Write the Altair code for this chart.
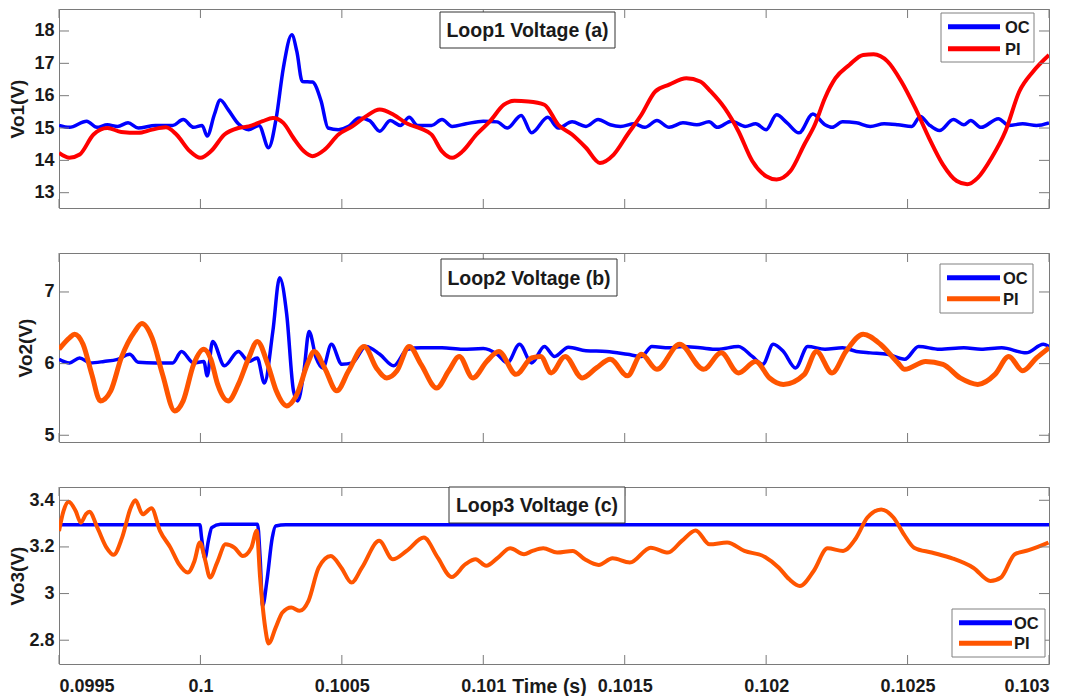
import altair as alt
import pandas as pd

# ---------------- data (time in s, voltage in V) ----------------
p1_oc = [
    (0.099500, 15.08), (0.099537, 15.02), (0.099598, 15.21), (0.099634, 15.02), (0.099671, 15.10),
    (0.099707, 15.05), (0.099744, 15.16), (0.099780, 15.00), (0.099841, 15.08), (0.099902, 15.08),
    (0.099939, 15.26), (0.099976, 15.02), (0.100006, 15.08), (0.100024, 14.75), (0.100049, 15.41),
    (0.100070, 15.87), (0.100098, 15.57), (0.100134, 15.13), (0.100171, 14.95), (0.100207, 15.08),
    (0.100241, 14.39), (0.100268, 15.31), (0.100293, 16.85), (0.100323, 17.88), (0.100341, 17.36),
    (0.100360, 16.44), (0.100396, 16.42), (0.100427, 15.82), (0.100451, 15.00), (0.100488, 14.95),
    (0.100524, 15.05), (0.100561, 15.31), (0.100598, 15.23), (0.100634, 14.90), (0.100671, 15.23),
    (0.100707, 15.08), (0.100738, 15.33), (0.100768, 15.08), (0.100817, 15.08), (0.100854, 15.26),
    (0.100890, 15.05), (0.100939, 15.13), (0.101000, 15.21), (0.101049, 15.19), (0.101085, 15.00),
    (0.101134, 15.39), (0.101171, 14.85), (0.101228, 15.33), (0.101265, 15.00), (0.101314, 15.19),
    (0.101363, 15.05), (0.101406, 15.26), (0.101449, 15.10), (0.101485, 15.05), (0.101534, 15.13),
    (0.101571, 15.02), (0.101614, 15.23), (0.101657, 15.02), (0.101706, 15.16), (0.101755, 15.10),
    (0.101798, 15.19), (0.101828, 15.02), (0.101877, 15.21), (0.101926, 15.05), (0.101963, 15.13),
    (0.102000, 14.95), (0.102037, 15.41), (0.102074, 15.16), (0.102116, 14.85), (0.102165, 15.43),
    (0.102208, 15.10), (0.102233, 15.02), (0.102270, 15.19), (0.102319, 15.16), (0.102368, 15.05),
    (0.102417, 15.13), (0.102466, 15.10), (0.102515, 15.05), (0.102545, 15.36), (0.102576, 15.10),
    (0.102613, 14.92), (0.102662, 15.26), (0.102699, 15.10), (0.102723, 15.23), (0.102760, 15.02),
    (0.102821, 15.29), (0.102858, 15.08), (0.102907, 15.13), (0.102956, 15.08), (0.103000, 15.16),
]

p1_pi = [
    (0.099500, 14.23), (0.099537, 14.08), (0.099573, 14.18), (0.099622, 14.80), (0.099671, 15.00),
    (0.099720, 14.88), (0.099780, 14.85), (0.099829, 14.95), (0.099878, 15.02), (0.099915, 14.80),
    (0.099963, 14.28), (0.100000, 14.08), (0.100037, 14.28), (0.100085, 14.80), (0.100134, 15.00),
    (0.100171, 15.05), (0.100220, 15.21), (0.100256, 15.31), (0.100293, 15.16), (0.100329, 14.69),
    (0.100366, 14.28), (0.100396, 14.13), (0.100439, 14.33), (0.100488, 14.80), (0.100537, 15.05),
    (0.100585, 15.36), (0.100634, 15.57), (0.100683, 15.41), (0.100732, 15.13), (0.100780, 14.98),
    (0.100817, 14.80), (0.100854, 14.28), (0.100890, 14.08), (0.100927, 14.28), (0.100976, 14.80),
    (0.101024, 15.21), (0.101073, 15.72), (0.101110, 15.84), (0.101159, 15.82), (0.101216, 15.72),
    (0.101265, 15.10), (0.101314, 14.80), (0.101363, 14.39), (0.101412, 13.92), (0.101461, 14.18),
    (0.101510, 14.80), (0.101559, 15.41), (0.101608, 16.13), (0.101657, 16.34), (0.101718, 16.54),
    (0.101767, 16.44), (0.101804, 16.13), (0.101853, 15.62), (0.101902, 14.90), (0.101951, 13.98),
    (0.102000, 13.51), (0.102037, 13.41), (0.102086, 13.67), (0.102135, 14.49), (0.102172, 15.10),
    (0.102208, 15.93), (0.102245, 16.54), (0.102294, 16.95), (0.102343, 17.26), (0.102380, 17.28),
    (0.102429, 17.06), (0.102478, 16.44), (0.102527, 15.62), (0.102576, 14.69), (0.102625, 13.87),
    (0.102674, 13.36), (0.102711, 13.26), (0.102748, 13.46), (0.102797, 14.08), (0.102846, 14.90),
    (0.102895, 16.13), (0.102944, 16.75), (0.103000, 17.26),
]

p2_oc = [
    (0.099500, 6.06), (0.099537, 6.01), (0.099573, 6.08), (0.099610, 6.01), (0.099659, 6.03),
    (0.099707, 6.06), (0.099750, 6.13), (0.099780, 6.02), (0.099841, 6.01), (0.099902, 6.01),
    (0.099933, 6.17), (0.099976, 6.01), (0.100012, 6.03), (0.100024, 5.83), (0.100043, 6.31),
    (0.100085, 5.97), (0.100134, 6.17), (0.100171, 6.03), (0.100201, 6.08), (0.100226, 5.73),
    (0.100256, 6.45), (0.100280, 7.20), (0.100305, 6.69), (0.100329, 5.62), (0.100344, 5.48),
    (0.100366, 5.90), (0.100384, 6.45), (0.100409, 6.08), (0.100433, 5.94), (0.100463, 6.27),
    (0.100500, 5.99), (0.100537, 6.01), (0.100585, 6.24), (0.100634, 6.13), (0.100683, 5.97),
    (0.100732, 6.20), (0.100780, 6.22), (0.100854, 6.22), (0.100927, 6.20), (0.101000, 6.21),
    (0.101049, 6.13), (0.101085, 6.01), (0.101128, 6.27), (0.101171, 6.01), (0.101216, 6.24),
    (0.101252, 6.10), (0.101301, 6.23), (0.101363, 6.18), (0.101436, 6.17), (0.101510, 6.13),
    (0.101559, 6.10), (0.101596, 6.24), (0.101657, 6.22), (0.101706, 6.24), (0.101767, 6.22),
    (0.101828, 6.20), (0.101902, 6.24), (0.101951, 6.10), (0.101988, 5.99), (0.102025, 6.27),
    (0.102061, 6.17), (0.102104, 5.94), (0.102147, 6.24), (0.102208, 6.20), (0.102270, 6.22),
    (0.102319, 6.17), (0.102368, 6.15), (0.102429, 6.13), (0.102490, 6.06), (0.102539, 6.24),
    (0.102613, 6.20), (0.102699, 6.22), (0.102760, 6.20), (0.102833, 6.22), (0.102919, 6.15),
    (0.102980, 6.27), (0.103000, 6.24),
]

p2_pi = [
    (0.099500, 6.20), (0.099537, 6.36), (0.099555, 6.41), (0.099585, 6.27), (0.099616, 5.85),
    (0.099646, 5.48), (0.099683, 5.62), (0.099720, 6.08), (0.099768, 6.45), (0.099793, 6.56),
    (0.099829, 6.36), (0.099866, 5.85), (0.099909, 5.34), (0.099939, 5.48), (0.099976, 5.99),
    (0.100012, 6.20), (0.100037, 6.06), (0.100061, 5.71), (0.100098, 5.48), (0.100134, 5.71),
    (0.100171, 6.08), (0.100201, 6.31), (0.100238, 5.99), (0.100268, 5.62), (0.100305, 5.41),
    (0.100341, 5.57), (0.100378, 5.99), (0.100402, 6.17), (0.100439, 5.94), (0.100482, 5.62),
    (0.100524, 5.90), (0.100579, 6.24), (0.100622, 5.94), (0.100659, 5.80), (0.100695, 5.90),
    (0.100738, 6.24), (0.100780, 5.99), (0.100835, 5.66), (0.100878, 5.90), (0.100915, 6.10),
    (0.100963, 5.80), (0.101012, 6.03), (0.101055, 6.17), (0.101116, 5.85), (0.101171, 6.08),
    (0.101203, 6.10), (0.101240, 5.87), (0.101289, 6.10), (0.101350, 5.80), (0.101400, 5.94),
    (0.101449, 6.06), (0.101510, 5.83), (0.101559, 6.13), (0.101614, 5.92), (0.101694, 6.27),
    (0.101779, 5.92), (0.101841, 6.15), (0.101902, 5.87), (0.101963, 6.03), (0.102012, 5.80),
    (0.102061, 5.71), (0.102135, 5.85), (0.102178, 6.17), (0.102233, 5.87), (0.102282, 6.17),
    (0.102343, 6.41), (0.102404, 6.27), (0.102466, 6.01), (0.102490, 5.92), (0.102564, 6.03),
    (0.102625, 5.99), (0.102686, 5.80), (0.102748, 5.71), (0.102809, 5.85), (0.102858, 6.10),
    (0.102907, 5.90), (0.102956, 6.08), (0.103000, 6.22),
]

p3_oc = [
    (0.099500, 3.295), (0.099998, 3.295), (0.100004, 3.240), (0.100016, 3.151), (0.100028, 3.226),
    (0.100040, 3.283), (0.100071, 3.297), (0.100202, 3.297), (0.100211, 3.154), (0.100220, 2.947),
    (0.100235, 3.054), (0.100254, 3.240), (0.100266, 3.290), (0.100302, 3.295), (0.103000, 3.295),
]

p3_pi = [
    (0.099500, 3.268), (0.099516, 3.354), (0.099534, 3.394), (0.099559, 3.354), (0.099577, 3.304),
    (0.099595, 3.340), (0.099607, 3.351), (0.099638, 3.276), (0.099668, 3.197), (0.099693, 3.166),
    (0.099723, 3.240), (0.099754, 3.369), (0.099770, 3.400), (0.099796, 3.340), (0.099827, 3.366),
    (0.099857, 3.269), (0.099894, 3.197), (0.099924, 3.126), (0.099955, 3.090), (0.099979, 3.140),
    (0.099998, 3.219), (0.100016, 3.147), (0.100034, 3.069), (0.100059, 3.133), (0.100089, 3.211),
    (0.100120, 3.197), (0.100150, 3.161), (0.100180, 3.197), (0.100199, 3.269), (0.100211, 3.069),
    (0.100229, 2.854), (0.100241, 2.786), (0.100266, 2.854), (0.100290, 2.919), (0.100321, 2.940),
    (0.100351, 2.926), (0.100382, 2.969), (0.100418, 3.111), (0.100461, 3.161), (0.100498, 3.111),
    (0.100534, 3.047), (0.100571, 3.111), (0.100632, 3.226), (0.100680, 3.147), (0.100729, 3.183),
    (0.100790, 3.240), (0.100839, 3.154), (0.100888, 3.071), (0.100937, 3.126), (0.100973, 3.147),
    (0.101010, 3.119), (0.101052, 3.154), (0.101095, 3.194), (0.101144, 3.169), (0.101174, 3.183),
    (0.101212, 3.194), (0.101261, 3.176), (0.101316, 3.183), (0.101359, 3.147), (0.101408, 3.123),
    (0.101457, 3.151), (0.101518, 3.133), (0.101592, 3.197), (0.101653, 3.176), (0.101702, 3.226),
    (0.101751, 3.271), (0.101800, 3.211), (0.101862, 3.219), (0.101923, 3.183), (0.101996, 3.157),
    (0.102045, 3.111), (0.102082, 3.061), (0.102119, 3.033), (0.102168, 3.097), (0.102217, 3.194),
    (0.102272, 3.183), (0.102315, 3.233), (0.102358, 3.326), (0.102407, 3.361), (0.102450, 3.326),
    (0.102487, 3.254), (0.102523, 3.197), (0.102585, 3.176), (0.102658, 3.151), (0.102732, 3.111),
    (0.102793, 3.054), (0.102830, 3.069), (0.102879, 3.169), (0.102928, 3.186), (0.102998, 3.219),
]

x_ticks = [0.0995, 0.1, 0.1005, 0.101, 0.1015, 0.102, 0.1025, 0.103]
p1_yticks = [13, 14, 15, 16, 17, 18]
p2_yticks = [5, 6, 7]
p3_yticks = [2.8, 3.0, 3.2, 3.4]
series_names = ["OC", "PI"]
panel_titles = ["Loop1 Voltage (a)", "Loop2 Voltage (b)", "Loop3 Voltage (c)"]
y_titles = ["Vo1(V)", "Vo2(V)", "Vo3(V)"]

# ---------------- style ----------------
FONT = "Liberation Sans"
GREY = "#7a7a7a"
TXT = "#1a1a1a"
BLUE = "#0000ff"
RED = "#ff0000"
ORANGE = "#ff5500"
W = 990


def to_df(pairs):
    return pd.DataFrame(pairs, columns=["t", "v"])


def panel(oc, pi, pi_color, pi_width, ydom, yticks, ytitle, H, title, tbox, lbox, lrows, show_x, tpad):
    xs = alt.Scale(domain=[0.0995, 0.103], nice=False, zero=False)
    ys = alt.Scale(domain=ydom, nice=False, zero=False)
    if show_x:
        xaxis = alt.Axis(values=x_ticks, format="~g", ticks=False, tickSize=0, domain=False, grid=False,
                         labelFont=FONT, labelFontSize=18, labelFontWeight="bold", labelColor=TXT,
                         labelPadding=13, labelOverlap=False,
                         title="Time (s)", titleFont=FONT, titleFontSize=19.5, titleFontWeight="bold",
                         titleColor=TXT, titleX=490, titleY=13, titleBaseline="top", titleAlign="center")
    else:
        xaxis = None
    X = alt.X("t:Q", scale=xs, axis=xaxis)
    Y = alt.Y("v:Q", scale=ys,
              axis=alt.Axis(values=yticks, format="~g", ticks=False, tickSize=0, domain=False, grid=False,
                            labelFont=FONT, labelFontSize=18, labelFontWeight="bold", labelColor=TXT,
                            labelPadding=5, title=ytitle, titleFont=FONT, titleFontSize=19,
                            titleFontWeight="bold", titleColor=TXT, titlePadding=tpad))

    oc_line = alt.Chart(to_df(oc)).mark_line(color=BLUE, strokeWidth=3.5, clip=True,
                                             interpolate="monotone").encode(x=X, y=Y)
    pi_line = alt.Chart(to_df(pi)).mark_line(color=pi_color, strokeWidth=pi_width, clip=True,
                                             interpolate="monotone").encode(x=X, y=Y)

    ydf = pd.DataFrame({"v": yticks})
    xdf = pd.DataFrame({"t": x_ticks})
    tl = alt.Chart(ydf).mark_rule(color=GREY, strokeWidth=1).encode(y=Y, x=alt.value(0), x2=alt.value(10))
    tr = alt.Chart(ydf).mark_rule(color=GREY, strokeWidth=1).encode(y=Y, x=alt.value(W - 10), x2=alt.value(W))
    tb = alt.Chart(xdf).mark_rule(color=GREY, strokeWidth=1).encode(x=X, y=alt.value(H - 9), y2=alt.value(H))
    tt = alt.Chart(xdf).mark_rule(color=GREY, strokeWidth=1).encode(x=X, y=alt.value(0), y2=alt.value(9))

    dummy = pd.DataFrame({"k": [0]})
    x0, x1, y0, y1 = tbox
    title_box = alt.Chart(dummy).mark_rect(fill="white", stroke="#333333", strokeWidth=1).encode(
        x=alt.value(x0), x2=alt.value(x1), y=alt.value(y0), y2=alt.value(y1))
    title_txt = alt.Chart(dummy).mark_text(text=title, font=FONT, fontSize=19.5, fontWeight="bold", color=TXT,
                                           align="center", baseline="middle").encode(
        x=alt.value((x0 + x1) / 2), y=alt.value((y0 + y1) / 2 + 1))

    lx0, lx1, ly0, ly1 = lbox
    sx0, sx1, tx, r1, r2 = lrows
    leg_box = alt.Chart(dummy).mark_rect(fill="white", stroke="#808080", strokeWidth=1).encode(
        x=alt.value(lx0), x2=alt.value(lx1), y=alt.value(ly0), y2=alt.value(ly1))
    leg_l1 = alt.Chart(dummy).mark_rule(color=BLUE, strokeWidth=5).encode(
        x=alt.value(sx0), x2=alt.value(sx1), y=alt.value(r1))
    leg_l2 = alt.Chart(dummy).mark_rule(color=pi_color, strokeWidth=5).encode(
        x=alt.value(sx0), x2=alt.value(sx1), y=alt.value(r2))
    leg_t1 = alt.Chart(dummy).mark_text(text=series_names[0], font=FONT, fontSize=16.5, fontWeight="bold",
                                        color=TXT, align="left", baseline="middle").encode(
        x=alt.value(tx), y=alt.value(r1 + 1))
    leg_t2 = alt.Chart(dummy).mark_text(text=series_names[1], font=FONT, fontSize=16.5, fontWeight="bold",
                                        color=TXT, align="left", baseline="middle").encode(
        x=alt.value(tx), y=alt.value(r2 + 1))

    return alt.layer(oc_line, pi_line, tl, tr, tb, tt, title_box, title_txt,
                     leg_box, leg_l1, leg_l2, leg_t1, leg_t2).properties(width=W, height=H)


c1 = panel(p1_oc, p1_pi, RED, 4, [12.527, 18.68], p1_yticks, y_titles[0], 199, panel_titles[0],
           (381, 556, 3, 39), (882, 975, 4, 53), (889, 941, 946, 17.7, 39.7), False, 6)
c2 = panel(p2_oc, p2_pi, ORANGE, 5, [4.906, 7.544], p2_yticks, y_titles[1], 189, panel_titles[1],
           (382, 558, 6, 43), (881, 974, 11, 60), (888, 941, 944, 24.7, 45.7), False, 8)
c3 = panel(p3_oc, p3_pi, ORANGE, 4, [2.698, 3.457], p3_yticks, y_titles[2], 177, panel_titles[2],
           (390, 566, 0, 36), (893, 986, 122, 170), (900, 953, 955, 135.7, 156.3), True, 1)

chart = alt.vconcat(c1, c2, c3, spacing=45, bounds="flush").properties(
    padding=0, background="white"
).configure_view(stroke=GREY, strokeWidth=1)

chart.save("out.html", embed_options={"renderer": "svg", "actions": False})
